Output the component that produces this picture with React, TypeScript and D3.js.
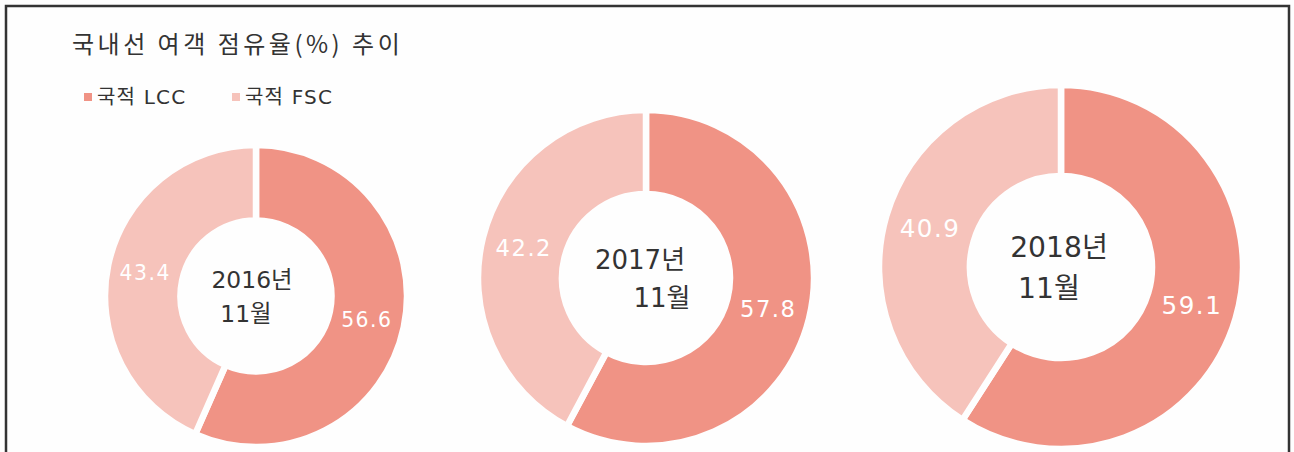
import * as d3 from 'd3'

const seriesNames = ['국적 LCC', '국적 FSC']
const years = ['2016년', '2017년', '2018년']
const months = ['11월', '11월', '11월']
const lccShare = [56.6, 57.8, 59.1]
const fscShare = [43.4, 42.2, 40.9]

const COLORS = ['#f09385', '#f6c3bb']
const FONT = '"DejaVu Sans", "Noto Sans CJK KR", sans-serif'
const TITLE_FONT = '"Noto Sans CJK KR", sans-serif'

// donut placement (center, outer radius) and center-label nudges
const layout = [
  { cx: 256, cy: 296, r: 151, dx1: -4, dx2: -10 },
  { cx: 646, cy: 278, r: 168, dx1: -6, dx2: 16 },
  { cx: 1061, cy: 267, r: 182, dx1: -2, dx2: -12 },
]

const width = 1294
const height = 452

type Slice = { name: string; value: number; color: string }

export default function App() {
  const pie = d3
    .pie<Slice>()
    .sort(null)
    .value(d => d.value)
    .startAngle(0)
    .endAngle(Math.PI * 2)

  const donuts = years.map((year, i) => {
    const slices: Slice[] = [
      { name: seriesNames[0], value: lccShare[i], color: COLORS[0] },
      { name: seriesNames[1], value: fscShare[i], color: COLORS[1] },
    ]
    return { year, month: months[i], arcs: pie(slices), box: layout[i] }
  })

  return (
    <svg
      width={width}
      height={height}
      viewBox={`0 0 ${width} ${height}`}
      style={{ position: 'absolute', left: 0, top: 0, background: '#fefefe' }}
      fontFamily={FONT}
    >
      <path
        d={`M6,${height} V6 H1289 V${height}`}
        fill="none"
        stroke="#333"
        strokeWidth={2.5}
      />

      <text x={72} y={53} fontSize={24} fill="#333" letterSpacing={3.5} fontFamily={TITLE_FONT}>
        국내선 여객 점유율(%) 추이
      </text>

      {seriesNames.map((name, i) => {
        const x = 84 + i * 148
        return (
          <g key={name}>
            <rect x={x} y={93} width={8} height={8} fill={COLORS[i]} />
            <text x={x + 13} y={104} fontSize={20} fill="#333" letterSpacing={1.2}>
              {name}
            </text>
          </g>
        )
      })}

      {donuts.map(d => {
        const { cx, cy, r, dx1, dx2 } = d.box
        const inner = r * 0.5
        const arc = d3.arc<d3.PieArcDatum<Slice>>().innerRadius(inner).outerRadius(r)
        const centerSize = r * 0.155
        const numSize = r * 0.135
        return (
          <g key={d.year} transform={`translate(${cx},${cy})`}>
            {d.arcs.map(a => (
              <path
                key={a.data.name}
                d={arc(a) ?? ''}
                fill={a.data.color}
                stroke="#fefefe"
                strokeWidth={6.5}
                strokeLinejoin="miter"
              />
            ))}
            {d.arcs.map(a => {
              const [lx, ly] = arc.centroid(a)
              return (
                <text
                  key={`lbl-${a.data.name}`}
                  x={lx}
                  y={ly}
                  dy="0.36em"
                  textAnchor="middle"
                  fontSize={numSize}
                  fill="#fff"
                  letterSpacing={1.5}
                >
                  {a.data.value.toFixed(1)}
                </text>
              )
            })}
            <text
              x={dx1}
              y={-centerSize * 0.7}
              dy="0.36em"
              textAnchor="middle"
              fontSize={centerSize}
              fill="#333"
            >
              {d.year}
            </text>
            <text
              x={dx2}
              y={centerSize * 0.75}
              dy="0.36em"
              textAnchor="middle"
              fontSize={centerSize}
              fill="#333"
            >
              {d.month}
            </text>
          </g>
        )
      })}
    </svg>
  )
}
